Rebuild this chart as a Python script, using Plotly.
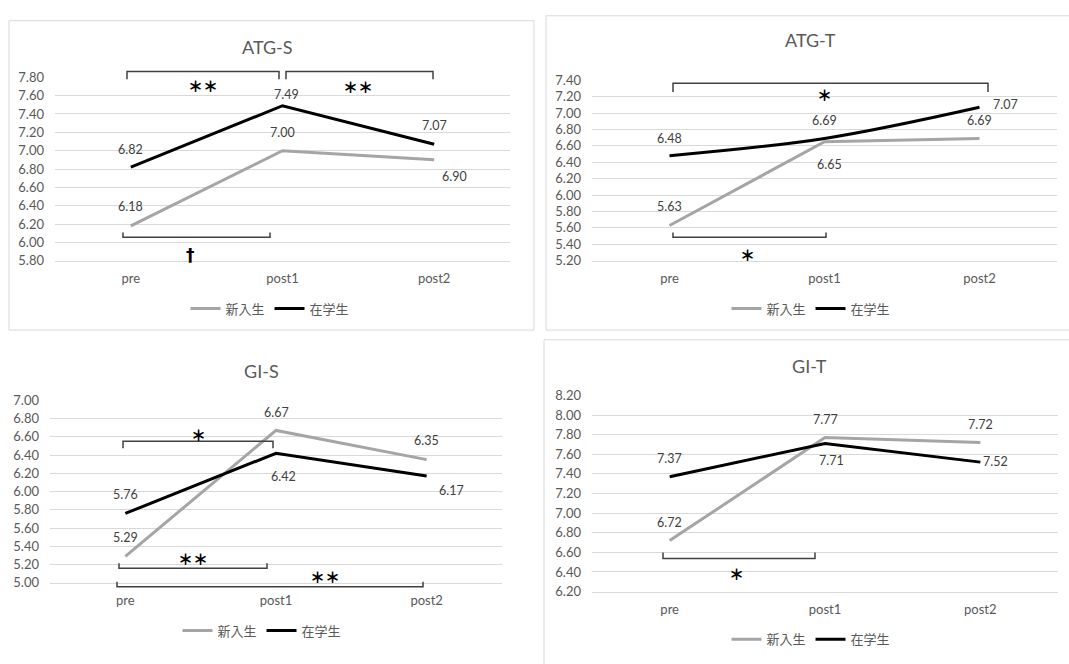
import plotly.graph_objects as go

# ---------------- data ----------------
categories = ["pre", "post1", "post2"]
series_names = ["新入生", "在学生"]
panel_titles = ["ATG-S", "ATG-T", "GI-S", "GI-T"]

atg_s_new = [6.18, 7.00, 6.90]
atg_s_cur = [6.82, 7.49, 7.07]
atg_t_new = [5.63, 6.65, 6.69]
atg_t_cur = [6.48, 6.69, 7.07]
gi_s_new = [5.29, 6.67, 6.35]
gi_s_cur = [5.76, 6.42, 6.17]
gi_t_new = [6.72, 7.77, 7.72]
gi_t_cur = [7.37, 7.71, 7.52]

y_ranges = [[5.8, 7.8], [5.2, 7.4], [5.0, 7.0], [6.2, 8.2]]

# ---------------- layout / style ----------------
W, H = 1069, 664
FONT = "Lato, 'Noto Sans CJK JP', sans-serif"
CJK = "'Noto Sans CJK JP', Lato, sans-serif"
GRAY = "#A5A5A5"
BLACK = "#000000"
GRID = "#D9D9D9"
TXT = "#595959"
LBL = "#404040"


def fx(px):
    return px / W


def fy(py):
    return 1 - py / H


# plot-area pixel boxes: (left, right, top, bottom)
boxes = [(55, 510, 71, 259), (592, 1057, 74, 259), (50, 502, 402, 589), (592, 1058, 397, 598)]
title_pos = [(267, 40), (810, 33), (261, 372), (809, 367)]
legend_pos = [(270, 308), (811, 308), (262, 638), (811, 647)]
spline_cur = [False, True, False, False]

# label offsets (dx, dy) px, dy positive = down
off_new = [[(0, -19), (0, -18), (20, 17)],
           [(0, -19), (5, 23), (0, -18)],
           [(0, -19), (0, -18), (0, -19)],
           [(0, -18), (0, -18), (0, -18)]]
off_cur = [[(0, -18), (4, -11), (0, -19)],
           [(0, -17), (0, -18), (26, -3)],
           [(0, -19), (7, 23), (25, 14)],
           [(0, -18), (6, 17), (15, -1)]]

# brackets: (x0, x1, y_bar, y_tick_end) px
brackets = [
    (127, 279, 65, 73), (286, 433, 65, 73), (123, 270, 235, 230),
    (673, 988, 77, 86), (673, 826, 235, 230),
    (123, 273, 444, 451), (119, 267, 574, 569), (117, 423, 593, 588),
    (663, 815, 564, 558),
]
marks = [
    ("＊＊", 203, 79), ("＊＊", 358, 80), ("†", 190, 253),
    ("＊", 824, 89), ("＊", 747, 253),
    ("＊", 198, 437), ("＊＊", 193, 564), ("＊＊", 325, 583),
    ("＊", 736, 579),
]
# panel borders (px)
borders = [(9, 13, 534, 330), (546, 8, 1080, 330), (544, 340, 1080, 680)]

new_data = [atg_s_new, atg_t_new, gi_s_new, gi_t_new]
cur_data = [atg_s_cur, atg_t_cur, gi_s_cur, gi_t_cur]

fig = go.Figure()
annotations = []
shapes = []
layout = dict(
    width=W, height=H, margin=dict(l=0, r=0, t=0, b=0),
    paper_bgcolor="white", plot_bgcolor="white",
    font=dict(family=FONT, size=12, color=TXT),
)

for i in range(4):
    sfx = "" if i == 0 else str(i + 1)
    xa, ya = "x" + sfx, "y" + sfx
    lg = "legend" + sfx
    l, r, t, b = boxes[i]
    layout["xaxis" + sfx] = dict(
        domain=[fx(l), fx(r)], anchor=ya, type="category",
        categoryorder="array", categoryarray=categories,
        range=[-0.5, 2.5], showgrid=False, zeroline=False,
        showline=True, linecolor=GRID, linewidth=1, ticks="",
        ticklabelstandoff=6,
        tickfont=dict(family=FONT, size=13, color=TXT), fixedrange=True,
    )
    layout["yaxis" + sfx] = dict(
        domain=[fy(b), fy(t)], anchor=xa, range=y_ranges[i],
        tick0=y_ranges[i][0], dtick=0.2, tickformat=".2f",
        showgrid=True, gridcolor=GRID, gridwidth=1, zeroline=False,
        showline=False, ticks="", ticklabelstandoff=10,
        tickfont=dict(family=FONT, size=13, color=TXT), fixedrange=True,
    )
    layout[lg] = dict(
        orientation="h", x=fx(legend_pos[i][0]), y=fy(legend_pos[i][1]),
        xanchor="center", yanchor="middle", xref="paper", yref="paper",
        font=dict(family=CJK, size=13, color=TXT), bgcolor="rgba(0,0,0,0)",
        itemwidth=30, tracegroupgap=0,
    )
    fig.add_trace(go.Scatter(
        x=categories, y=new_data[i], name=series_names[0], mode="lines",
        line=dict(color=GRAY, width=3), xaxis=xa, yaxis=ya, legend=lg,
    ))
    fig.add_trace(go.Scatter(
        x=categories, y=cur_data[i], name=series_names[1], mode="lines",
        line=dict(color=BLACK, width=3,
                  shape="spline" if spline_cur[i] else "linear"),
        xaxis=xa, yaxis=ya, legend=lg,
    ))
    for vals, offs in ((new_data[i], off_new[i]), (cur_data[i], off_cur[i])):
        for c, v, (dx, dy) in zip(categories, vals, offs):
            annotations.append(dict(
                x=c, y=v, xref=xa, yref=ya, text=f"{v:.2f}", showarrow=False,
                xshift=dx, yshift=-dy, xanchor="center", yanchor="middle",
                font=dict(family=FONT, size=12.5, color=LBL),
            ))
    annotations.append(dict(
        x=fx(title_pos[i][0]), y=fy(title_pos[i][1]), xref="paper", yref="paper",
        text=panel_titles[i], showarrow=False, xanchor="center", yanchor="middle",
        font=dict(family=FONT, size=18, color=TXT),
    ))

for (x0, x1, yb, yt) in brackets:
    shapes.append(dict(
        type="path", xref="paper", yref="paper",
        path=f"M {fx(x0)},{fy(yt)} L {fx(x0)},{fy(yb)} L {fx(x1)},{fy(yb)} L {fx(x1)},{fy(yt)}",
        line=dict(color="#404040", width=1.5),
    ))
for (s, x, y) in marks:
    if s == "†":
        fnt = dict(family="DejaVu Sans", size=17, color="#000000", weight=700)
    else:
        fnt = dict(family=CJK, size=15, color="#000000", weight=900)
    annotations.append(dict(
        x=fx(x), y=fy(y), xref="paper", yref="paper", text=s,
        showarrow=False, xanchor="center", yanchor="middle", font=fnt,
    ))
for (x0, y0, x1, y1) in borders:
    shapes.append(dict(
        type="rect", xref="paper", yref="paper",
        x0=fx(x0), y0=fy(y1), x1=fx(x1), y1=fy(y0),
        line=dict(color=GRID, width=1), fillcolor="rgba(0,0,0,0)", layer="below",
    ))

layout["annotations"] = annotations
layout["shapes"] = shapes
fig.update_layout(**layout)

fig.write_html(
    "out.html",
    config={"displayModeBar": False},
    post_script="document.body.style.margin='0';document.body.style.overflow='hidden';",
)
